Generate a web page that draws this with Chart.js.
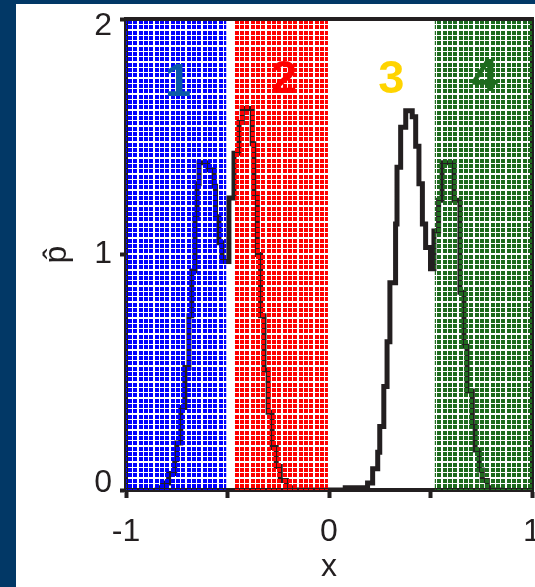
<!DOCTYPE html>
<html>
<head>
<meta charset="utf-8">
<script src="https://cdn.jsdelivr.net/npm/chart.js@4/dist/chart.umd.min.js"></script>
<style>
  html, body { margin: 0; padding: 0; width: 535px; height: 587px; overflow: hidden; background: #023866; }
  #wrap { position: absolute; left: 16px; top: 4px; width: 519px; height: 583px; background: #fff; }
</style>
</head>
<body>
<div id="wrap"><canvas id="chart"></canvas></div>
<script>
// histogram (step): value holds from x until the next x
const histX = [-0.86, -0.835, -0.82, -0.79, -0.76, -0.75, -0.73, -0.71, -0.69, -0.676, -0.66, -0.65, -0.64,
  -0.596, -0.566, -0.559, -0.542, -0.527, -0.493, -0.468, -0.443, -0.427, -0.378, -0.37, -0.353, -0.337,
  -0.32, -0.30, -0.28, -0.26, -0.24, -0.21, -0.19,
  0.08, 0.19, 0.215, 0.24, 0.25, 0.27, 0.286, 0.30, 0.328, 0.335, 0.353, 0.378, 0.41, 0.427, 0.443, 0.46,
  0.476, 0.50, 0.517, 0.54, 0.557, 0.616, 0.645, 0.665, 0.68, 0.706, 0.72, 0.74, 0.755, 0.78, 0.80, 0.86];
const histY = [0, 0.01, 0.03, 0.07, 0.13, 0.20, 0.35, 0.52, 0.74, 0.93, 1.16, 1.30, 1.39,
  1.36, 1.29, 1.16, 1.05, 0.97, 1.24, 1.43, 1.56, 1.62, 1.47, 1.25, 1.00, 0.74,
  0.51, 0.33, 0.18, 0.10, 0.04, 0.01, 0,
  0.01, 0.03, 0.09, 0.16, 0.27, 0.44, 0.63, 0.88, 1.13, 1.37, 1.54, 1.61, 1.585, 1.46, 1.30, 1.13,
  1.03, 0.94, 1.10, 1.23, 1.39, 1.23, 0.84, 0.61, 0.42, 0.27, 0.17, 0.085, 0.04, 0.01, 0, 0];

// hatched class regions
const hatchStart = [-1, -0.47, 0.52];
const hatchEnd = [-0.505, -0.005, 1];
const hatchColor = ['#0000ff', '#ff0000', '#1e6b1e'];

// class numbers
const labelText = ['1', '2', '3', '4'];
const labelX = [-0.744, -0.221, 0.307, 0.767];
const labelY = [1.73, 1.74, 1.74, 1.75];
const labelColor = ['#0b5aa8', '#ff0000', '#ffd400', '#1e6b1e'];

const ink = '#231f20';
Chart.defaults.font.family = '"Liberation Sans", Arial, Helvetica, sans-serif';

function makePattern(color) {
  // small squares with thin see-through gaps
  const c = document.createElement('canvas');
  c.width = 16; c.height = 16;
  const g = c.getContext('2d');
  g.fillStyle = color;
  const cells = [0, 5, 11];
  cells.forEach(function(px) {
    cells.forEach(function(py) { g.fillRect(px, py, 4, 4); });
  });
  return g.createPattern(c, 'repeat');
}

const datasets = hatchStart.map(function(s, i) {
  return {
    data: [{x: s, y: 2}, {x: hatchEnd[i], y: 2}],
    fill: 'origin',
    backgroundColor: makePattern(hatchColor[i]),
    borderWidth: 0,
    pointRadius: 0,
    order: 1
  };
});
datasets.push({
  data: histX.map(function(x, i) { return {x: x, y: histY[i]}; }),
  stepped: 'before',
  borderColor: ink,
  borderWidth: 5,
  pointRadius: 0,
  fill: false,
  order: 2
});

const framePlugin = {
  id: 'frame',
  beforeDatasetsDraw(chart) {
    const a = chart.chartArea, ctx = chart.ctx;
    ctx.save();
    ctx.strokeStyle = ink; ctx.lineWidth = 4;
    ctx.beginPath();
    ctx.moveTo(a.right, a.top - 2); ctx.lineTo(a.right, a.bottom + 2);
    ctx.stroke();
    ctx.restore();
  },
  afterDatasetsDraw(chart) {
    const a = chart.chartArea, ctx = chart.ctx;
    ctx.save();
    ctx.strokeStyle = ink; ctx.lineWidth = 4;
    ctx.beginPath();
    ctx.moveTo(a.left - 2, a.top); ctx.lineTo(a.right + 2, a.top);
    ctx.stroke();
    ctx.font = 'bold 47px "Liberation Sans", Arial, sans-serif';
    ctx.textAlign = 'center';
    ctx.textBaseline = 'middle';
    labelText.forEach(function(t, i) {
      ctx.fillStyle = labelColor[i];
      ctx.fillText(t, chart.scales.x.getPixelForValue(labelX[i]), chart.scales.y.getPixelForValue(labelY[i]));
    });
    ctx.restore();
  }
};

new Chart(document.getElementById('chart'), {
  type: 'line',
  data: { datasets: datasets },
  plugins: [framePlugin],
  options: {
    responsive: true,
    maintainAspectRatio: false,
    animation: false,
    layout: { padding: { top: 15, right: 3, left: 0, bottom: 0 } },
    plugins: { legend: { display: false }, tooltip: { enabled: false } },
    scales: {
      x: {
        type: 'linear', min: -1, max: 1, z: 1,
        ticks: {
          stepSize: 0.5, autoSkip: false, maxRotation: 0, padding: 15, color: ink,
          font: { size: 32 },
          callback: function(v) { return Number.isInteger(v) ? String(v) : ''; }
        },
        grid: { drawOnChartArea: false, tickLength: 8, tickWidth: 4, tickColor: ink },
        border: { display: true, width: 4, color: ink },
        title: { display: true, text: 'x', color: ink, font: { size: 32 }, padding: { top: 0, bottom: 1 } },
        afterFit: function(s) { s.height = 97; s.paddingLeft = 0; s.paddingRight = 0; }
      },
      y: {
        min: 0, max: 2, z: 1,
        ticks: {
          stepSize: 1, padding: 8, color: ink,
          // end labels sit inside the axis span, like the original
          font: function(c) {
            const v = c.tick ? c.tick.value : 1;
            return { size: 32, lineHeight: (v === 0 || v === 2) ? '14px' : 1.2 };
          },
          callback: function(v) { return v === 2 ? ['', '2'] : v === 0 ? ['0', ''] : String(v); }
        },
        grid: { drawOnChartArea: false, tickLength: 6, tickWidth: 4, tickColor: ink },
        border: { display: true, width: 4, color: ink },
        title: { display: true, text: 'p\u0302', color: ink, font: { size: 32 }, padding: { top: 22, bottom: 0 } },
        afterFit: function(s) { s.width = 110; s.paddingTop = 0; s.paddingBottom = 0; }
      }
    }
  }
});
</script>
</body>
</html>
